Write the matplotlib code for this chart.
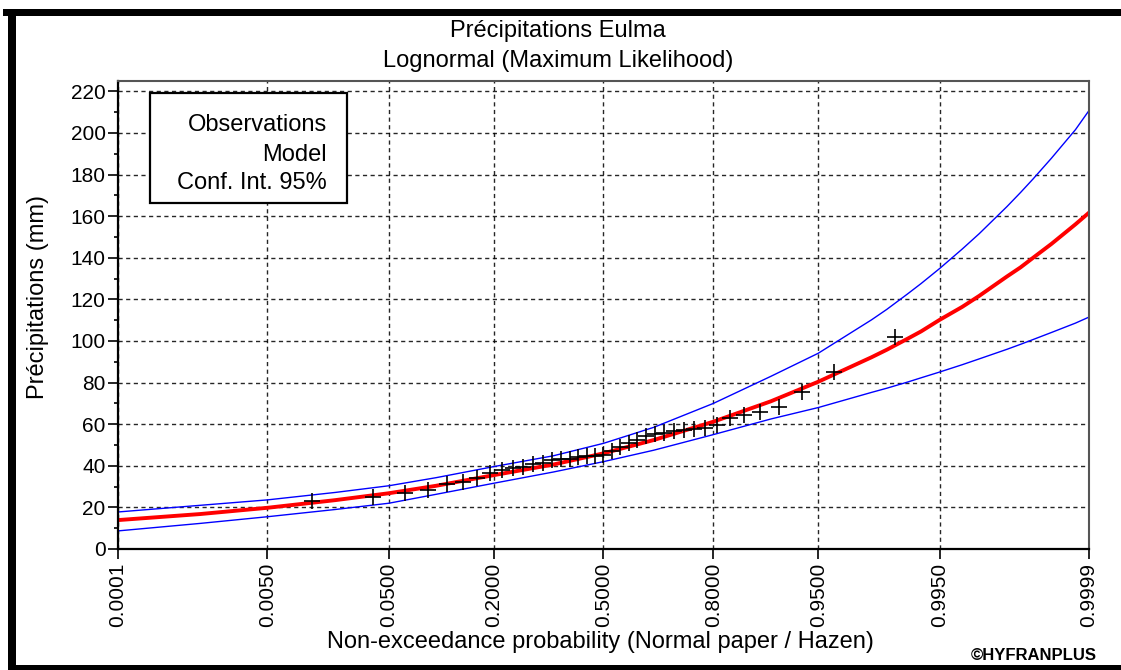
import numpy as np
import matplotlib
matplotlib.use('Agg')
import matplotlib.pyplot as plt
from matplotlib.patches import Rectangle
from statistics import NormalDist

# donnees
prob_ticks  = [0.0001, 0.0050, 0.0500, 0.2000, 0.5000, 0.8000, 0.9500, 0.9950, 0.9999]
tick_labels = ['0.0001', '0.0050', '0.0500', '0.2000', '0.5000', '0.8000', '0.9500', '0.9950', '0.9999']

# observations triees (mm), positions de Hazen
obs_mm = [23.0, 25.0, 27.0, 28.5, 31.3, 32.0, 34.0, 36.5, 38.0, 39.0,
          39.5, 41.0, 41.5, 43.0, 43.5, 43.5, 44.0, 44.5, 44.5, 45.0,
          47.0, 49.0, 51.0, 52.5, 54.5, 55.5, 56.0, 56.5, 57.0, 57.5,
          58.0, 59.5, 63.0, 64.3, 66.0, 68.3, 75.5, 85.0, 102.0]

# modele lognormal et intervalle de confiance 95%
curve_prob = [0.0001, 0.001, 0.005, 0.02, 0.05, 0.1, 0.2, 0.35, 0.5, 0.65,
              0.8, 0.9, 0.95, 0.98, 0.985, 0.99, 0.9925, 0.995, 0.997, 0.998,
              0.999, 0.9993, 0.9995, 0.9997, 0.99985, 0.9999]
model_mm = [13.9, 16.8, 19.8, 23.5, 26.8, 30.4, 35.5, 40.6, 46.0, 52.4,
            61.2, 71.0, 80.4, 92.2, 95.8, 101.0, 104.6, 110.2, 116.4, 121.7,
            131.0, 135.4, 140.0, 146.7, 156.1, 161.7]
upper_mm = [17.8, 21.0, 23.6, 27.2, 30.4, 34.3, 39.6, 44.8, 50.8, 58.5,
            70.0, 83.0, 94.1, 110.2, 115.2, 122.5, 127.6, 134.9, 144.2, 151.6,
            164.6, 171.4, 177.9, 187.9, 201.6, 210.8]
lower_mm = [8.7, 12.3, 15.5, 19.0, 22.0, 26.3, 31.6, 37.0, 42.0, 47.5,
            55.0, 62.5, 68.0, 75.3, 77.3, 80.2, 82.3, 85.1, 88.6, 91.4,
            96.0, 98.4, 100.7, 104.1, 108.6, 111.5]

nd = NormalDist()
def papier_normal(p):
    return np.array([nd.inv_cdf(v) for v in p])

n = len(obs_mm)
p_hazen = [(i - 0.5) / n for i in range(1, n + 1)]

plt.rcParams['font.family'] = ['Liberation Sans', 'DejaVu Sans']

W, H = 1121, 670
fig = plt.figure(figsize=(W / 100, H / 100), dpi=100)
ax = fig.add_axes([118 / W, 1 - 549 / H, (1089 - 118) / W, (549 - 81) / H])

ax.plot(papier_normal(curve_prob), upper_mm, color='#0000ff', lw=1.0, zorder=2)
ax.plot(papier_normal(curve_prob), lower_mm, color='#0000ff', lw=1.0, zorder=2)
ax.plot(papier_normal(curve_prob), model_mm, color='#ff0000', lw=2.8, zorder=2)
ax.plot(papier_normal(p_hazen), obs_mm, ls='none', marker='+', color='black',
        ms=12, mew=1.2, zorder=4)

zt = papier_normal(prob_ticks)
ax.set_xlim(zt[0], zt[-1])
ax.set_ylim(0, 225)
ax.set_xticks(zt)
ax.set_xticklabels(tick_labels, rotation=90, fontsize=15)
ax.set_yticks(np.arange(0, 221, 20))
ax.set_yticks(np.arange(10, 221, 20), minor=True)
ax.tick_params(axis='y', labelsize=15, length=7, width=1.2, pad=2)
ax.tick_params(axis='y', which='minor', length=3, width=1.2)
ax.tick_params(axis='x', length=7, width=1.2, pad=3)

ax.grid(True, which='major', color='black', lw=1.0, ls=(0, (3, 2.5)), alpha=0.85)
ax.set_axisbelow(True)

for s in ['left', 'bottom']:
    ax.spines[s].set_linewidth(1.6)
    ax.spines[s].set_color('black')
for s in ['top', 'right']:
    ax.spines[s].set_linewidth(1.5)
    ax.spines[s].set_color('#555555')

# boite de legende (texte seul)
box = Rectangle((0.033, 0.739), 0.203, 0.235, transform=ax.transAxes,
                facecolor='white', edgecolor='black', lw=1.6, zorder=3)
ax.add_patch(box)
for txt, yy in zip(['Observations', 'Model', 'Conf. Int. 95%'], [0.906, 0.842, 0.782]):
    ax.text(0.215, yy, txt, transform=ax.transAxes, ha='right', va='center',
            fontsize=17, zorder=5)

# titres
fig.text(0.498, 1 - 31 / H, 'Précipitations Eulma', ha='center', va='center', fontsize=17)
fig.text(0.498, 1 - 61 / H, 'Lognormal (Maximum Likelihood)', ha='center', va='center', fontsize=17)
fig.text(600 / W, 1 - 642 / H, 'Non-exceedance probability (Normal paper / Hazen)',
         ha='center', va='center', fontsize=17)
fig.text(38 / W, 1 - 297 / H, 'Précipitations (mm)', rotation=90,
         ha='center', va='center', fontsize=17)
fig.text(1097 / W, 1 - 655 / H, '©HYFRANPLUS', ha='right', va='center',
         fontsize=12, fontweight='bold')

# cadre noir de la capture
def barre(x0, y0, x1, y1):
    fig.add_artist(Rectangle((x0 / W, 1 - y1 / H), (x1 - x0) / W, (y1 - y0) / H,
                             transform=fig.transFigure, facecolor='black',
                             edgecolor='none'))
barre(3, 9, W, 16)
barre(8, 9, 16, H)
barre(8, 665, W, H)

fig.savefig('out.png', dpi=100)
